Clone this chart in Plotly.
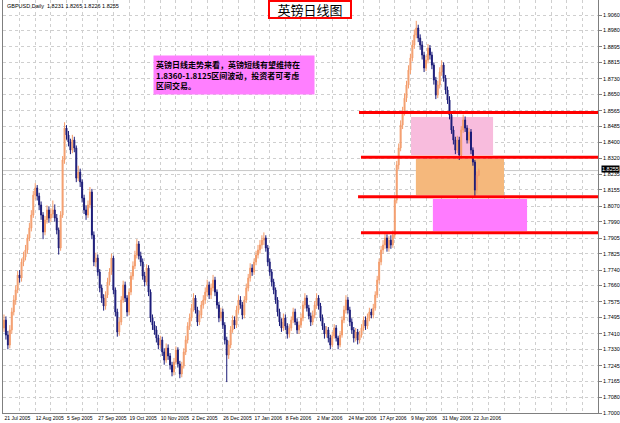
import plotly.graph_objects as go

# ---------------- data ----------------
date_labels = ["21 Jul 2005", "12 Aug 2005", "5 Sep 2005", "27 Sep 2005", "19 Oct 2005",
               "10 Nov 2005", "2 Dec 2005", "26 Dec 2005", "17 Jan 2006", "8 Feb 2006",
               "2 Mar 2006", "24 Mar 2006", "17 Apr 2006", "9 May 2006", "31 May 2006",
               "22 Jun 2006"]

price_ticks = [1.9060, 1.8980, 1.8895, 1.8815, 1.8730, 1.8650, 1.8565, 1.8485, 1.8400,
               1.8320, 1.8235, 1.8155, 1.8070, 1.7990, 1.7905, 1.7825, 1.7740, 1.7660,
               1.7575, 1.7495, 1.7410, 1.7330, 1.7245, 1.7165, 1.7080, 1.7000]

closes = [
    1.7481, 1.7404, 1.7352, 1.7430, 1.7523, 1.7585, 1.7637, 1.7714, 1.7699, 1.7782,
    1.7807, 1.7844, 1.7906, 1.7958, 1.8025, 1.8128, 1.8165, 1.8123, 1.8077, 1.8025,
    1.7937, 1.7999, 1.8051, 1.8009, 1.8030, 1.8051, 1.8009, 1.7947, 1.7854, 1.8025,
    1.8310, 1.8475, 1.8439, 1.8403, 1.8361, 1.8413, 1.8372, 1.8216, 1.8247, 1.8196,
    1.8113, 1.8051, 1.8025, 1.8077, 1.8144, 1.7921, 1.7782, 1.7802, 1.7730, 1.7647,
    1.7595, 1.7554, 1.7611, 1.7678, 1.7730, 1.7802, 1.7637, 1.7523, 1.7419, 1.7471,
    1.7585, 1.7663, 1.7595, 1.7523, 1.7626, 1.7709, 1.7761, 1.7818, 1.7875, 1.7813,
    1.7782, 1.7709, 1.7678, 1.7750, 1.7626, 1.7492, 1.7455, 1.7430, 1.7388, 1.7352,
    1.7378, 1.7316, 1.7274, 1.7336, 1.7295, 1.7248, 1.7212, 1.7264, 1.7326, 1.7254,
    1.7202, 1.7243, 1.7316, 1.7378, 1.7450, 1.7492, 1.7543, 1.7595, 1.7533, 1.7471,
    1.7507, 1.7559, 1.7585, 1.7626, 1.7663, 1.7611, 1.7647, 1.7688, 1.7626, 1.7559,
    1.7492, 1.7523, 1.7455, 1.7378, 1.7300, 1.7352, 1.7430, 1.7481, 1.7455, 1.7533,
    1.7585, 1.7559, 1.7507, 1.7585, 1.7647, 1.7699, 1.7750, 1.7730, 1.7782, 1.7818,
    1.7844, 1.7870, 1.7895, 1.7906, 1.7854, 1.7782, 1.7730, 1.7678, 1.7637, 1.7585,
    1.7523, 1.7471, 1.7440, 1.7492, 1.7450, 1.7409, 1.7440, 1.7481, 1.7523, 1.7471,
    1.7430, 1.7455, 1.7492, 1.7559, 1.7595, 1.7543, 1.7502, 1.7471, 1.7507, 1.7559,
    1.7595, 1.7554, 1.7492, 1.7450, 1.7409, 1.7430, 1.7388, 1.7352, 1.7399, 1.7440,
    1.7388, 1.7352, 1.7404, 1.7481, 1.7533, 1.7585, 1.7533, 1.7471, 1.7430, 1.7388,
    1.7419, 1.7378, 1.7404, 1.7440, 1.7481, 1.7450, 1.7492, 1.7523, 1.7507, 1.7543,
    1.7611, 1.7688, 1.7782, 1.7844, 1.7870, 1.7906, 1.7854, 1.7895, 1.7870, 1.7921,
    1.8102, 1.8284, 1.8372, 1.8491, 1.8558, 1.8630, 1.8698, 1.8775, 1.8838, 1.8905,
    1.8957, 1.8993, 1.8941, 1.8905, 1.8853, 1.8786, 1.8827, 1.8889, 1.8853, 1.8801,
    1.8724, 1.8646, 1.8698, 1.8765, 1.8801, 1.8734, 1.8672, 1.8620, 1.8542, 1.8465,
    1.8413, 1.8361, 1.8413, 1.8335, 1.8465, 1.8517, 1.8475, 1.8413, 1.8455, 1.8361,
    1.8299, 1.8154, 1.8231, 1.8255,
]

highs = [
    1.7510, 1.7500, 1.7425, 1.7455, 1.7545, 1.7610, 1.7660, 1.7735, 1.7740, 1.7800,
    1.7835, 1.7870, 1.7925, 1.7985, 1.8050, 1.8150, 1.8190, 1.8180, 1.8140, 1.8095,
    1.8040, 1.8020, 1.8075, 1.8070, 1.8060, 1.8100, 1.8080, 1.8030, 1.7960, 1.8045,
    1.8330, 1.8505, 1.8490, 1.8460, 1.8420, 1.8440, 1.8430, 1.8385, 1.8280, 1.8265,
    1.8210, 1.8130, 1.8075, 1.8100, 1.8170, 1.8160, 1.7940, 1.7830, 1.7820, 1.7745,
    1.7665, 1.7615, 1.7630, 1.7700, 1.7750, 1.7825, 1.7815, 1.7650, 1.7540, 1.7495,
    1.7605, 1.7685, 1.7680, 1.7610, 1.7645, 1.7730, 1.7785, 1.7840, 1.7900, 1.7890,
    1.7835, 1.7800, 1.7730, 1.7770, 1.7765, 1.7640, 1.7510, 1.7475, 1.7450, 1.7405,
    1.7400, 1.7395, 1.7335, 1.7360, 1.7355, 1.7310, 1.7265, 1.7285, 1.7345, 1.7340,
    1.7270, 1.7265, 1.7335, 1.7400, 1.7470, 1.7515, 1.7565, 1.7620, 1.7610, 1.7550,
    1.7530, 1.7580, 1.7610, 1.7650, 1.7690, 1.7680, 1.7670, 1.7715, 1.7705, 1.7640,
    1.7575, 1.7545, 1.7540, 1.7470, 1.7395, 1.7375, 1.7450, 1.7505, 1.7500, 1.7555,
    1.7610, 1.7605, 1.7575, 1.7605, 1.7670, 1.7720, 1.7775, 1.7770, 1.7800, 1.7840,
    1.7870, 1.7895, 1.7920, 1.7935, 1.7920, 1.7870, 1.7800, 1.7745, 1.7695, 1.7650,
    1.7600, 1.7540, 1.7490, 1.7515, 1.7510, 1.7465, 1.7460, 1.7500, 1.7545, 1.7540,
    1.7490, 1.7475, 1.7515, 1.7580, 1.7620, 1.7610, 1.7560, 1.7520, 1.7530, 1.7580,
    1.7620, 1.7610, 1.7570, 1.7510, 1.7465, 1.7450, 1.7445, 1.7405, 1.7420, 1.7460,
    1.7455, 1.7400, 1.7425, 1.7500, 1.7555, 1.7610, 1.7600, 1.7550, 1.7490, 1.7445,
    1.7440, 1.7435, 1.7425, 1.7460, 1.7500, 1.7500, 1.7515, 1.7545, 1.7540, 1.7565,
    1.7630, 1.7710, 1.7800, 1.7865, 1.7895, 1.7930, 1.7925, 1.7915, 1.7920, 1.7945,
    1.8125, 1.8305, 1.8395, 1.8515, 1.8585, 1.8655, 1.8720, 1.8800, 1.8860, 1.8930,
    1.8985, 1.9030, 1.9010, 1.8960, 1.8925, 1.8870, 1.8850, 1.8910, 1.8905, 1.8870,
    1.8815, 1.8740, 1.8720, 1.8790, 1.8825, 1.8815, 1.8750, 1.8690, 1.8640, 1.8560,
    1.8485, 1.8430, 1.8435, 1.8430, 1.8485, 1.8545, 1.8535, 1.8490, 1.8475, 1.8470,
    1.8375, 1.8310, 1.8250, 1.8265,
]

lows = [
    1.7420, 1.7380, 1.7330, 1.7335, 1.7410, 1.7505, 1.7560, 1.7620, 1.7675, 1.7680,
    1.7760, 1.7790, 1.7825, 1.7890, 1.7940, 1.8010, 1.8105, 1.8100, 1.8050, 1.8000,
    1.7900, 1.7920, 1.7980, 1.7985, 1.7990, 1.8010, 1.7990, 1.7925, 1.7820, 1.7840,
    1.8010, 1.8290, 1.8415, 1.8380, 1.8340, 1.8345, 1.8350, 1.8195, 1.8200, 1.8170,
    1.8090, 1.8030, 1.8000, 1.8010, 1.8060, 1.7900, 1.7760, 1.7755, 1.7710, 1.7625,
    1.7570, 1.7530, 1.7535, 1.7595, 1.7660, 1.7715, 1.7615, 1.7500, 1.7395, 1.7400,
    1.7455, 1.7570, 1.7575, 1.7500, 1.7505, 1.7610, 1.7690, 1.7745, 1.7800, 1.7795,
    1.7760, 1.7690, 1.7655, 1.7660, 1.7605, 1.7470, 1.7430, 1.7405, 1.7365, 1.7330,
    1.7335, 1.7295, 1.7250, 1.7260, 1.7275, 1.7225, 1.7190, 1.7195, 1.7250, 1.7235,
    1.7180, 1.7185, 1.7230, 1.7300, 1.7360, 1.7430, 1.7475, 1.7525, 1.7515, 1.7450,
    1.7455, 1.7490, 1.7540, 1.7565, 1.7605, 1.7590, 1.7590, 1.7630, 1.7605, 1.7540,
    1.7470, 1.7475, 1.7435, 1.7355, 1.7160, 1.7280, 1.7335, 1.7415, 1.7435, 1.7440,
    1.7515, 1.7540, 1.7485, 1.7490, 1.7570, 1.7630, 1.7680, 1.7710, 1.7715, 1.7765,
    1.7800, 1.7825, 1.7850, 1.7870, 1.7835, 1.7760, 1.7710, 1.7655, 1.7615, 1.7565,
    1.7500, 1.7450, 1.7420, 1.7425, 1.7430, 1.7385, 1.7390, 1.7425, 1.7465, 1.7455,
    1.7410, 1.7410, 1.7440, 1.7475, 1.7540, 1.7525, 1.7485, 1.7450, 1.7455, 1.7490,
    1.7540, 1.7535, 1.7475, 1.7430, 1.7385, 1.7390, 1.7365, 1.7330, 1.7340, 1.7385,
    1.7370, 1.7330, 1.7340, 1.7390, 1.7465, 1.7515, 1.7515, 1.7450, 1.7410, 1.7365,
    1.7370, 1.7355, 1.7360, 1.7390, 1.7425, 1.7430, 1.7435, 1.7475, 1.7490, 1.7490,
    1.7530, 1.7595, 1.7670, 1.7765, 1.7825, 1.7850, 1.7835, 1.7835, 1.7850, 1.7855,
    1.7905, 1.8085, 1.8260, 1.8355, 1.8470, 1.8540, 1.8610, 1.8680, 1.8755, 1.8820,
    1.8885, 1.8940, 1.8920, 1.8880, 1.8830, 1.8765, 1.8770, 1.8810, 1.8830, 1.8780,
    1.8700, 1.8625, 1.8630, 1.8680, 1.8745, 1.8715, 1.8650, 1.8600, 1.8520, 1.8445,
    1.8390, 1.8340, 1.8345, 1.8310, 1.8320, 1.8450, 1.8455, 1.8395, 1.8395, 1.8340,
    1.8280, 1.8120, 1.8135, 1.8226,
]

first_open = 1.7440
opens = [first_open] + closes[:-1]
bars = list(range(len(closes)))

bid_price = 1.8255
header_text = "GBPUSD,Daily  1.8231 1.8265 1.8226 1.8255"
title_text = "英镑日线图"
note_text = "英镑日线走势来看，英镑短线有望维持在<br>1.8360-1.8125区间波动，投资者可考虑<br>区间交易。"

# drawn objects (bar index / price)
red_levels = [(181.7, 1.8555), (182.7, 1.8324), (181.2, 1.8120), (182.7, 1.7933)]
zones = [
    (208.3, 250.3, 1.8335, 1.8532, "#F8BCDD"),
    (210.8, 255.9, 1.8128, 1.8315, "#F5B87C"),
    (219.5, 267.7, 1.7942, 1.8108, "#FF7BFF"),
]

x_range = [-0.5, 304.0]
y_range = [1.7000, 1.9138]

# ---------------- figure ----------------
fig = go.Figure()

fig.add_trace(go.Candlestick(
    x=bars, open=opens, high=highs, low=lows, close=closes,
    increasing=dict(line=dict(color="#F39C6B", width=1), fillcolor="#F6AC80"),
    decreasing=dict(line=dict(color="#1B1B78", width=1), fillcolor="#1B1B78"),
    whiskerwidth=0, showlegend=False, hoverinfo="skip",
))

shapes = []
for x0, x1, y0, y1, col in zones:
    shapes.append(dict(type="rect", xref="x", yref="y", x0=x0, x1=x1, y0=y0, y1=y1,
                       fillcolor=col, line=dict(width=0), layer="between"))
for x0, lvl in red_levels:
    shapes.append(dict(type="line", xref="x", yref="y", x0=x0, x1=x_range[1], y0=lvl, y1=lvl,
                       line=dict(color="#FF0000", width=3), layer="above"))
# bid line
shapes.append(dict(type="line", xref="paper", yref="y", x0=0, x1=1, y0=bid_price, y1=bid_price,
                   line=dict(color="#C8C8C8", width=1), layer="between"))
fig.update_layout(shapes=shapes)

tick_idx = list(range(0, 305, 8))
tick_txt = []
for t in tick_idx:
    k = t // 16
    if t % 16 == 0 and k < len(date_labels):
        tick_txt.append(date_labels[k])
    else:
        tick_txt.append("")

fig.update_layout(
    width=620, height=423,
    margin=dict(l=3, r=22, t=0, b=10),
    paper_bgcolor="white", plot_bgcolor="white",
    font=dict(family="Liberation Sans, Arial, sans-serif", color="black"),
    xaxis=dict(
        range=x_range, rangeslider=dict(visible=False),
        tickmode="array", tickvals=tick_idx, ticktext=tick_txt,
        ticklabelposition="outside right", tickangle=0,
        tickfont=dict(size=5, color="black", family="Liberation Sans Narrow, Liberation Sans"),
        ticks="", showgrid=True, gridcolor="#CFCFCF", griddash="dot", gridwidth=1,
        showline=True, linecolor="#7F7F7F", linewidth=1, mirror=False, zeroline=False,
        fixedrange=True,
    ),
    yaxis=dict(
        range=y_range, side="right",
        tickmode="array", tickvals=price_ticks,
        ticktext=[f"{v:.4f}" for v in price_ticks],
        tickfont=dict(size=5.5, color="black"),
        ticks="outside", ticklen=3, tickcolor="#7F7F7F",
        showgrid=True, gridcolor="#CFCFCF", griddash="dot", gridwidth=1,
        showline=True, linecolor="#7F7F7F", linewidth=1, mirror=True, zeroline=False,
        fixedrange=True,
    ),
)

annotations = [
    dict(text=header_text, xref="paper", yref="paper", x=0.004, y=0.997,
         xanchor="left", yanchor="top", showarrow=False,
         font=dict(size=5.5, color="black")),
    dict(text=title_text, xref="paper", yref="paper", x=(310 - 3) / 595, y=1.0,
         xanchor="center", yanchor="top", showarrow=False, width=80, height=15,
         bgcolor="white", bordercolor="#FF0000", borderwidth=2, borderpad=0,
         font=dict(size=13, color="black", family="Noto Sans CJK SC")),
    dict(text=note_text, xref="x", yref="y", x=76.3, y=1.8853,
         xanchor="left", yanchor="top", showarrow=False, align="left",
         width=156, height=34, bgcolor="#FF7FFF", borderpad=2,
         font=dict(size=8, color="black", family="Noto Sans CJK SC", weight="bold")),
    dict(text=f"{bid_price:.4f}", xref="paper", yref="y", x=1.0, y=bid_price,
         xanchor="left", yanchor="middle", showarrow=False,
         bgcolor="black", borderpad=0, xshift=3, yshift=2,
         font=dict(size=5.5, color="white")),
]
fig.update_layout(annotations=annotations)

fig.write_html(
    "out.html",
    config={"displayModeBar": False},
    post_script="document.body.style.margin='0px';document.body.style.padding='0px';",
)
